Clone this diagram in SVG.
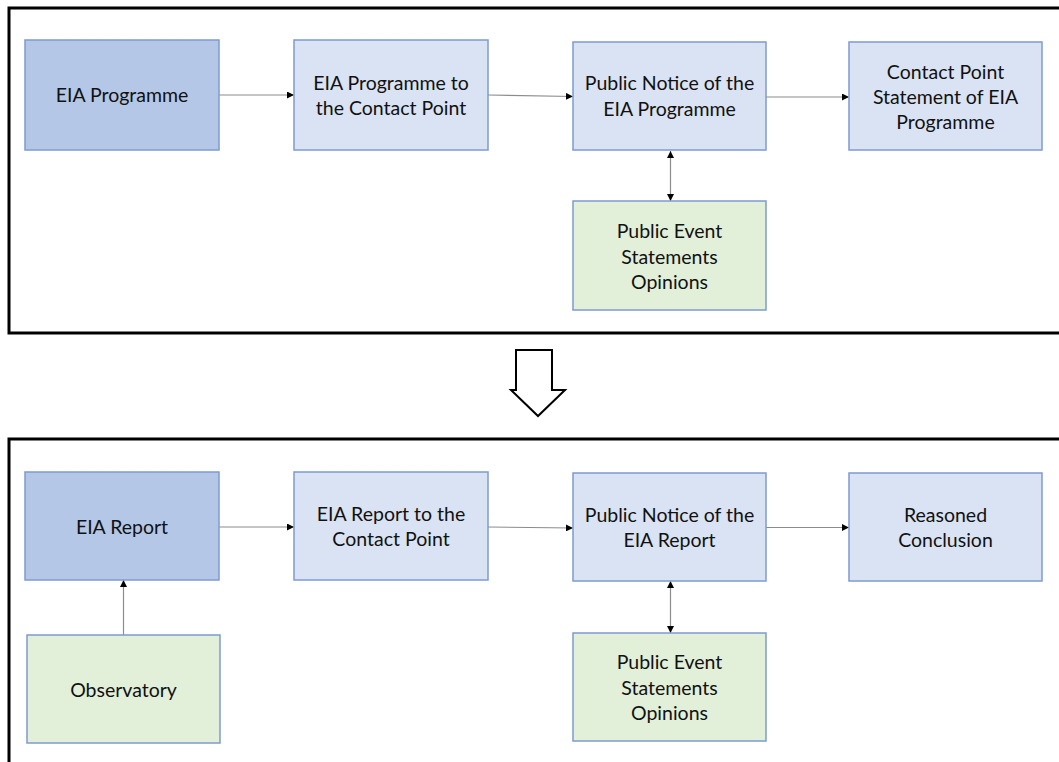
<svg xmlns="http://www.w3.org/2000/svg" width="1059" height="762" viewBox="0 0 1059 762">
<style>
.frame{fill:none;stroke:#000;stroke-width:3}
.box{stroke:#7f9bd0;stroke-width:1.5}
.dark{fill:#b4c7e7}
.light{fill:#dae3f3}
.green{fill:#e2efd9}
text{font-family:Lato,"Open Sans","Liberation Sans",sans-serif;font-size:19.5px;fill:#111;text-anchor:middle}
.conn{stroke:#8c8c8c;stroke-width:1.2;fill:none}
</style>
<defs>
<marker id="ah" viewBox="0 0 10 10" refX="10" refY="5" markerWidth="7" markerHeight="7" markerUnits="userSpaceOnUse" orient="auto-start-reverse">
<path d="M0,0 L10,5 L0,10 z" fill="#000"/>
</marker>
</defs>
<rect id="frame-top" class="frame" x="9" y="8" width="1060" height="325"/>
<rect id="frame-bottom" class="frame" x="9" y="439" width="1060" height="340"/>
<g id="big-arrow">
<path d="M516,350 L552,350 L552,390 L565,390 L538,416 L511,390 L516,390 Z" fill="#fff" stroke="#000" stroke-width="2" stroke-linejoin="miter"/>
</g>
<g id="connectors">
<line class="conn" x1="219" y1="95" x2="294" y2="95" marker-end="url(#ah)"/>
<line class="conn" x1="488" y1="95" x2="573" y2="96.5" marker-end="url(#ah)"/>
<line class="conn" x1="766" y1="97" x2="849" y2="97" marker-end="url(#ah)"/>
<line class="conn" x1="670.5" y1="151" x2="670.5" y2="201" marker-start="url(#ah)" marker-end="url(#ah)"/>
<line class="conn" x1="219" y1="527" x2="294" y2="527" marker-end="url(#ah)"/>
<line class="conn" x1="488" y1="527" x2="573" y2="528" marker-end="url(#ah)"/>
<line class="conn" x1="766" y1="527.5" x2="849" y2="527.5" marker-end="url(#ah)"/>
<line class="conn" x1="670.5" y1="581" x2="670.5" y2="633" marker-start="url(#ah)" marker-end="url(#ah)"/>
<line class="conn" x1="123.5" y1="635" x2="123.5" y2="580" marker-end="url(#ah)"/>
</g>
<g id="eia-programme">
<rect class="box dark" x="25" y="40" width="194" height="110"/>
<text x="122" y="102">EIA Programme</text>
</g>
<g id="programme-to-contact-point">
<rect class="box light" x="294" y="40" width="194" height="110"/>
<text x="391" y="90">EIA Programme to</text>
<text x="391" y="115">the Contact Point</text>
</g>
<g id="public-notice-programme">
<rect class="box light" x="573" y="42" width="193" height="108"/>
<text x="669.5" y="90">Public Notice of the</text>
<text x="669.5" y="116">EIA Programme</text>
</g>
<g id="contact-point-statement">
<rect class="box light" x="849" y="42" width="193" height="108"/>
<text x="945.5" y="79">Contact Point</text>
<text x="945.5" y="104">Statement of EIA</text>
<text x="945.5" y="129">Programme</text>
</g>
<g id="public-event-top">
<rect class="box green" x="573" y="201" width="193" height="109"/>
<text x="669.5" y="238">Public Event</text>
<text x="669.5" y="264">Statements</text>
<text x="669.5" y="289">Opinions</text>
</g>
<g id="eia-report">
<rect class="box dark" x="25" y="472" width="194" height="108"/>
<text x="122" y="534">EIA Report</text>
</g>
<g id="report-to-contact-point">
<rect class="box light" x="294" y="472" width="194" height="108"/>
<text x="391" y="521">EIA Report to the</text>
<text x="391" y="546">Contact Point</text>
</g>
<g id="public-notice-report">
<rect class="box light" x="573" y="473" width="193" height="108"/>
<text x="669.5" y="522">Public Notice of the</text>
<text x="669.5" y="547">EIA Report</text>
</g>
<g id="reasoned-conclusion">
<rect class="box light" x="849" y="473" width="193" height="108"/>
<text x="945.5" y="522">Reasoned</text>
<text x="945.5" y="547">Conclusion</text>
</g>
<g id="public-event-bottom">
<rect class="box green" x="573" y="633" width="193" height="108"/>
<text x="669.5" y="669">Public Event</text>
<text x="669.5" y="695">Statements</text>
<text x="669.5" y="720">Opinions</text>
</g>
<g id="observatory">
<rect class="box green" x="27" y="635" width="193" height="108"/>
<text x="123.5" y="697">Observatory</text>
</g>
</svg>
